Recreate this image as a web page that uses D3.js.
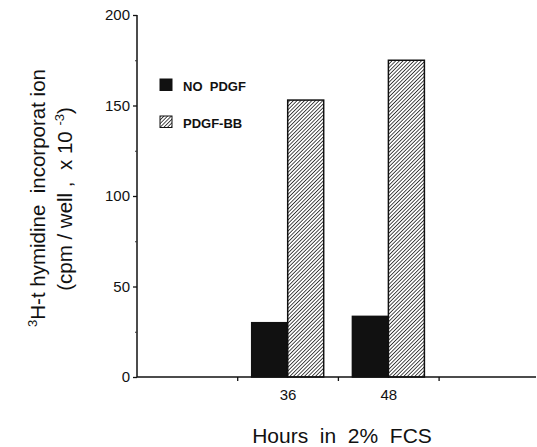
<!DOCTYPE html>
<html>
<head>
<meta charset="utf-8">
<script src="https://cdn.jsdelivr.net/npm/d3@7"></script>
<style>
  html, body { margin: 0; padding: 0; background: #fff; }
  svg { display: block; }
  text { font-family: "Liberation Sans", Arial, Helvetica, sans-serif; fill: #111; white-space: pre; }
</style>
</head>
<body>
<svg id="chart" width="537" height="447"></svg>
<script>
// ---- data ----
const slots = ["", "36", "48", " "];          // x-axis slots (empty ones are blank)
const series = ["NO PDGF", "PDGF-BB"];
const noPdgf = [null, 30, 33.5, null];
const pdgfBB = [null, 153, 175, null];
const yTicks = [0, 50, 100, 150, 200];
const yMinorTicks = [25, 75, 125, 175];

const svg = d3.select("#chart");

// hatch pattern
const defs = svg.append("defs");
const step = 2.6;
const pat = defs.append("pattern")
  .attr("id", "hatch").attr("patternUnits", "userSpaceOnUse")
  .attr("width", step).attr("height", step)
  .attr("patternTransform", "rotate(45)");
pat.append("rect").attr("width", step).attr("height", step).attr("fill", "#fff");
pat.append("line").attr("x1", 0).attr("y1", 0).attr("x2", 0).attr("y2", step)
  .attr("stroke", "#111").attr("stroke-width", 1.5);

const x0 = 137, yTop = 15, yBase = 377;
const x = d3.scaleBand().domain(slots).range([x0, x0 + 4 * 100.7]).paddingInner(0).paddingOuter(0);
const inner = d3.scaleBand().domain(series).range([14, 86]).padding(0);
const y = d3.scaleLinear().domain([0, 200]).range([yBase, yTop]);

// bars
const values = [noPdgf, pdgfBB];
const fills = ["#111", "url(#hatch)"];
series.forEach((s, si) => {
  slots.forEach((c, ci) => {
    const v = values[si][ci];
    if (v == null) return;
    svg.append("rect")
      .attr("x", x(c) + inner(s))
      .attr("y", y(v))
      .attr("width", inner.bandwidth())
      .attr("height", y(0) - y(v))
      .attr("fill", fills[si])
      .attr("stroke", "#111")
      .attr("stroke-width", 1.5);
  });
});

// y axis
const yAxis = d3.axisLeft(y).tickValues(yTicks).tickSize(4).tickPadding(3);
const gy = svg.append("g").attr("transform", `translate(${x0},0)`).call(yAxis);
gy.select(".domain").attr("stroke", "#111").attr("stroke-width", 1.5).attr("d", `M0,${yTop}V${yBase}`);
gy.selectAll(".tick line").attr("stroke", "#111").attr("stroke-width", 1.3);
gy.selectAll(".tick text").attr("font-size", 15).style("font-family", "Liberation Sans, Arial, sans-serif").attr("fill", "#111");
svg.append("g").attr("transform", `translate(${x0},0)`)
  .call(d3.axisLeft(y).tickValues(yMinorTicks).tickSize(2).tickFormat(""))
  .call(g => g.select(".domain").remove())
  .selectAll("line").attr("stroke", "#333").attr("stroke-width", 1);

// x axis
const xAxis = d3.axisBottom(x).tickSize(0).tickPadding(12).tickFormat(d => d.trim());
const gx = svg.append("g").attr("transform", `translate(0,${yBase})`).call(xAxis);
gx.select(".domain").attr("stroke", "#111").attr("stroke-width", 1.5).attr("d", `M${x0},0H536`);
gx.selectAll(".tick text").attr("font-size", 15).style("font-family", "Liberation Sans, Arial, sans-serif").attr("fill", "#111");
// boundary ticks between slots
svg.append("g").selectAll("line").data(slots.slice(1)).join("line")
  .attr("x1", d => x(d)).attr("x2", d => x(d))
  .attr("y1", yBase).attr("y2", yBase + 4)
  .attr("stroke", "#111").attr("stroke-width", 1.3);

// x title
svg.append("text").attr("x", 342).attr("y", 443).attr("text-anchor", "middle")
  .attr("font-size", 21).text("Hours  in  2%  FCS");

// y title
const yt = svg.append("text").attr("transform", "translate(45,198) rotate(-90)")
  .attr("text-anchor", "middle").attr("font-size", 20.5);
yt.append("tspan").attr("font-size", 13).attr("dy", -8).text("3");
yt.append("tspan").attr("dy", 8).text("H-t hymidine  incorporat ion");
const yt2 = svg.append("text").attr("transform", "translate(72,199) rotate(-90)")
  .attr("text-anchor", "middle").attr("font-size", 20.5);
yt2.append("tspan").text("(cpm / well ,  x 10 ");
yt2.append("tspan").attr("font-size", 13).attr("dy", -8).text("-3");
yt2.append("tspan").attr("dy", 8).text(")");

// legend
const leg = svg.append("g");
const legFills = ["#111", "url(#hatch)"];
const legY = [79, 116];
series.forEach((s, i) => {
  leg.append("rect").attr("x", 160).attr("y", legY[i]).attr("width", 12).attr("height", 11.5)
    .attr("fill", legFills[i]).attr("stroke", "#111").attr("stroke-width", 1);
  leg.append("text").attr("x", 183).attr("y", legY[i] + 11.5)
    .attr("font-size", 13).attr("font-weight", "bold")
    .text(s === "NO PDGF" ? "NO  PDGF" : s);
});
</script>
</body>
</html>
